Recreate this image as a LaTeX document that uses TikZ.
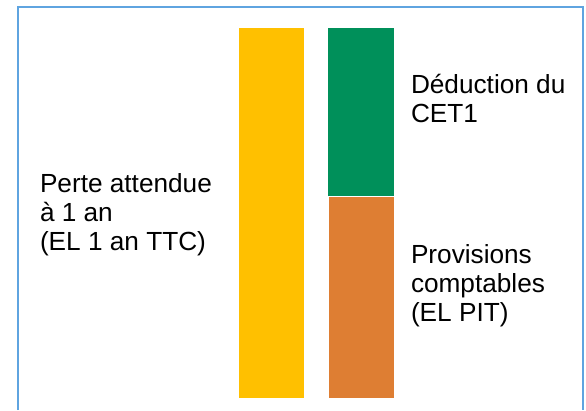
\documentclass[tikz,border=0pt]{standalone}
\usepackage{fontspec}
\setmainfont{Liberation Sans}
\definecolor{frameblue}{HTML}{5FA4E0}
\definecolor{elyellow}{HTML}{FFC000}
\definecolor{cetgreen}{HTML}{00905A}
\definecolor{provorange}{HTML}{DE7E33}
\begin{document}
\begin{tikzpicture}[x=1pt,y=1pt,
  bar/.style={draw=none,inner sep=0pt,outer sep=0pt,anchor=south west},
  label/.style={inner sep=0pt,outer sep=0pt,anchor=base west,align=left,
    font=\fontsize{26.2}{29}\selectfont}]
  \useasboundingbox (0,0) rectangle (586,410);
  \fill[white] (0,0) rectangle (586,410);
  % open frame, no bottom edge
  \draw[frameblue,line width=2pt] (18,0) -- (18,403) -- (583,403) -- (583,0);
  % bars
  \node[bar,fill=elyellow,minimum width=65pt,minimum height=370pt] (el) at (239,12) {};
  \node[bar,fill=cetgreen,minimum width=65.5pt,minimum height=168pt] (cet) at (328.3,214) {};
  \node[bar,fill=provorange,minimum width=65pt,minimum height=201pt] (prov) at (329,12) {};
  % labels, placed by the baseline of their last line
  \node[label] (ellabel) at (40,160) {Perte attendue\\à 1 an\\(EL 1 an TTC)};
  \node[label] (cetlabel) at (411,287) {Déduction du\\CET1};
  \node[label] (provlabel) at (411,89) {Provisions\\comptables\\(EL PIT)};
\end{tikzpicture}
\end{document}
